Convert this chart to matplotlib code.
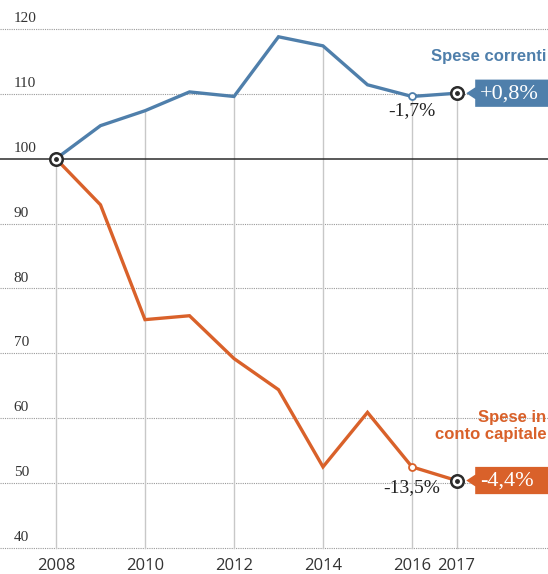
import matplotlib.pyplot as plt
from matplotlib.patches import Polygon

# data (index 2008 = 100)
years = [2008, 2009, 2010, 2011, 2012, 2013, 2014, 2015, 2016, 2017]
correnti = [100, 105.1, 107.4, 110.3, 109.6, 118.8, 117.4, 111.4, 109.6, 110.1]
capitale = [100, 92.9, 75.2, 75.8, 69.2, 64.4, 52.5, 60.9, 52.5, 50.4]
yticks = [40, 50, 60, 70, 80, 90, 100, 110, 120]
xticks = [2008, 2010, 2012, 2014, 2016, 2017]

BLUE = '#4f7fab'
ORANGE = '#d9612a'
DARK = '#2b2b2b'
SERIF = ['Liberation Serif', 'DejaVu Serif']
SANS = ['Liberation Sans', 'DejaVu Sans']

fig = plt.figure(figsize=(5.48, 5.74), dpi=100)
ax = fig.add_axes([0, 0, 1, 1])
ax.set_axis_off()
ax.set_xlim(2006.742, 2019.056)
ax.set_ylim(35.99, 124.47)

# horizontal dotted grid + y labels
for v in yticks:
    if v == 100:
        ax.axhline(v, color=DARK, lw=1.1, zorder=2)
    else:
        ax.axhline(v, color='#9a9a9a', lw=0.8, ls=(0, (1, 1)), zorder=1)
    ax.text(2007.05, v + 0.6, str(v), fontsize=11, family=SERIF,
            color='#333333', ha='left', va='bottom')

# vertical lines from bottom up to the blue line
for x in xticks:
    i = years.index(x)
    ax.plot([x, x], [40, correnti[i]], color='#c8c8c8', lw=1, zorder=1)
    ax.text(x, 37.3, str(x), fontsize=12, family=['Open Sans', 'DejaVu Sans'],
            color='#333333', ha='center', va='center')

ax.plot(years, correnti, color=BLUE, lw=2.4, zorder=3, solid_joinstyle='miter')
ax.plot(years, capitale, color=ORANGE, lw=2.4, zorder=3, solid_joinstyle='miter')

# small open markers on 2016
ax.plot([2016], [correnti[8]], 'o', ms=5, mfc='white', mec=BLUE, mew=1.3, zorder=4)
ax.plot([2016], [capitale[8]], 'o', ms=5, mfc='white', mec=ORANGE, mew=1.3, zorder=4)

# target markers
for x, y in [(2008, 100), (2017, correnti[-1]), (2017, capitale[-1])]:
    ax.plot([x], [y], 'o', ms=9, mfc='white', mec=DARK, mew=1.8, zorder=5)
    ax.plot([x], [y], 'o', ms=2.5, color=DARK, zorder=6)

# annotations
ax.text(2015.99, 107.4, '-1,7%', fontsize=14, family=SERIF, color='#222222',
        ha='center', va='center')
ax.text(2016.0, 49.3, '-13,5%', fontsize=14, family=SERIF, color='#222222',
        ha='center', va='center')

ax.text(2019.02, 115.7, 'Spese correnti', fontsize=12, family=SANS,
        fontweight='bold', color=BLUE, ha='right', va='center')
ax.text(2019.02, 58.8, 'Spese in\nconto capitale', fontsize=12, family=SANS,
        fontweight='bold', color=ORANGE, ha='right', va='center',
        multialignment='right', linespacing=1.15)


def value_box(y, label, color):
    x0, x1 = 2017.42, 2019.1
    h = 2.1
    ax.add_patch(Polygon([[x0 - 0.2, y], [x0, y + 0.9], [x0, y + h],
                          [x1, y + h], [x1, y - h], [x0, y - h], [x0, y - 0.9]],
                         closed=True, facecolor=color, edgecolor='none', zorder=5))
    ax.text(x0 + 0.1, y - 0.1, label, fontsize=16, family=SERIF, color='white',
            ha='left', va='center', zorder=6)


value_box(correnti[-1], '+0,8%', BLUE)
value_box(capitale[-1], '-4,4%', ORANGE)

fig.savefig('out.png', dpi=100)
